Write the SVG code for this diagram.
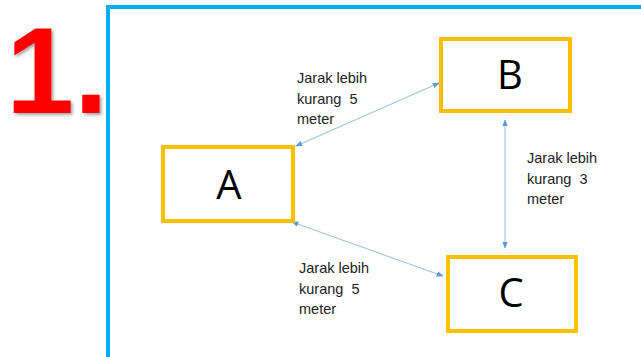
<svg xmlns="http://www.w3.org/2000/svg" width="641" height="357" viewBox="0 0 641 357">
<defs>
<style>
.box{fill:#fff;stroke:#FFC000;stroke-width:4}
.lbl{font-family:"Liberation Sans",Arial,sans-serif;font-size:14.5px;fill:#222;white-space:pre}
.big{font-family:"Open Sans","Liberation Sans",sans-serif;font-size:40px;fill:#000;text-anchor:middle}
.con{stroke:#9DC3E6;stroke-width:1.1;fill:none;marker-start:url(#ah);marker-end:url(#ah)}
</style>
<marker id="ah" viewBox="0 0 10 10" refX="9" refY="5" markerWidth="7" markerHeight="7" orient="auto-start-reverse" markerUnits="userSpaceOnUse">
<path d="M0,1 L10,5 L0,9 z" fill="#5B9BD5"/>
</marker>
<filter id="sh" x="-10%" y="-10%" width="130%" height="130%">
<feDropShadow dx="2" dy="2" stdDeviation="1.5" flood-color="#000" flood-opacity="0.35"/>
</filter>
</defs>
<rect width="641" height="357" fill="#fff"/>
<text x="6" y="113" font-family="Liberation Sans,Arial,sans-serif" font-weight="bold" font-size="122" fill="#FF0000" filter="url(#sh)" textLength="102" lengthAdjust="spacingAndGlyphs">1.</text>
<rect x="108" y="7" width="600" height="360" fill="none" stroke="#00B0F0" stroke-width="4"/>
<g id="connectors">
<line class="con" x1="296" y1="146" x2="439" y2="83"/>
<line class="con" x1="292" y1="222" x2="443" y2="276"/>
<line class="con" x1="505" y1="120" x2="505" y2="248"/>
</g>
<g id="A"><rect class="box" x="163" y="147" width="130" height="74"/><text class="big" x="229" y="199">A</text></g>
<g id="B"><rect class="box" x="441" y="39" width="129" height="72"/><text class="big" x="510" y="89">B</text></g>
<g id="C"><rect class="box" x="448" y="257" width="128" height="74"/><text class="big" x="511" y="307">C</text></g>
<g id="labels" xml:space="preserve">
<text class="lbl" x="297" y="83">Jarak lebih</text>
<text class="lbl" x="297" y="104">kurang  5</text>
<text class="lbl" x="297" y="124">meter</text>
<text class="lbl" x="527" y="163">Jarak lebih</text>
<text class="lbl" x="527" y="184">kurang  3</text>
<text class="lbl" x="527" y="204">meter</text>
<text class="lbl" x="299" y="273">Jarak lebih</text>
<text class="lbl" x="299" y="294">kurang  5</text>
<text class="lbl" x="299" y="314">meter</text>
</g>
</svg>
